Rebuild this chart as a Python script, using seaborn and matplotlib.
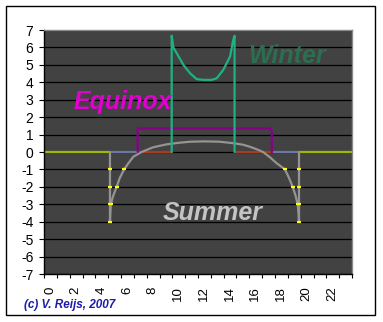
import numpy as np
import pandas as pd
import matplotlib
matplotlib.use("Agg")
import matplotlib.pyplot as plt
import seaborn as sns
from matplotlib import font_manager
from matplotlib.patches import Rectangle

# ---------------- data ----------------
hours_ticks = list(range(0, 25))
y_ticks = list(range(-7, 8))

winter_x = [9.95, 9.95, 10.08, 10.34, 10.86, 11.38, 11.9, 12.4, 13.07, 13.46, 13.97, 14.5, 14.75, 14.85, 14.85]
winter_y = [0, 6.67, 6.0, 5.67, 5.0, 4.52, 4.18, 4.14, 4.14, 4.23, 4.71, 5.48, 6.44, 6.67, 0]

equinox_x = [7.3, 7.3, 17.6, 17.75, 17.75]
equinox_y = [0, 1.35, 1.35, 1.2, 0]

summer_x = [5.14, 5.14, 5.17, 5.2, 5.4, 5.66, 5.9, 6.24, 6.57, 6.96, 7.6, 8.5, 9.56, 10.5, 11.4, 12.5,
            13.7, 14.8, 15.5, 16.05, 16.6, 17.07, 17.6, 18.14, 18.78, 19.1, 19.38, 19.6, 19.77, 19.84, 19.87, 19.87]
summer_y = [0, -4, -3.5, -3, -2.5, -2, -1.5, -1, -0.65, -0.27, 0, 0.27, 0.44, 0.53, 0.59, 0.61,
            0.59, 0.5, 0.42, 0.3, 0.15, 0, -0.3, -0.65, -1, -1.5, -2, -2.5, -3, -3.5, -4, 0]

# night / twilight baseline segments (start, end)
base_start = [0, 19.87, 5.14, 17.75, 7.3, 14.85]
base_end = [5.14, 24, 7.3, 19.87, 9.95, 17.75]
base_kind = ["night", "night", "summer", "summer", "equinox", "equinox"]

# yellow hour-marks on the summer curve
mark_x = [5.14, 5.14, 5.14, 5.14, 6.24, 5.66, 5.2, 19.87, 19.87, 19.87, 19.87, 18.78, 19.38, 19.77]
mark_y = [-1, -2, -3, -4, -1, -2, -3, -1, -2, -3, -4, -1, -2, -3]

# ---------------- style ----------------
sns.set_style("white")
plt.rcParams["font.family"] = ["Liberation Sans", "DejaVu Sans"]
plt.rcParams["xtick.top"] = False
plt.rcParams["xtick.labeltop"] = False
plt.rcParams["ytick.right"] = False

def has_font(name):
    try:
        font_manager.findfont(font_manager.FontProperties(family=name), fallback_to_default=False)
        return True
    except Exception:
        return False

narrow = has_font("Liberation Sans Narrow")
big_family = "Liberation Sans Narrow" if narrow else "Liberation Sans"
big_size = 22 if narrow else 18

W, H = 383, 322
fig = plt.figure(figsize=(W / 100, H / 100), dpi=100)
fig.patch.set_facecolor("white")

# outer frame
fig.patches.append(Rectangle((6 / W, 1 - 315 / H), (375 - 6) / W, (315 - 6) / H,
                             transform=fig.transFigure, fill=False, ec="black", lw=1.0))

ax = fig.add_axes([44 / W, 1 - 274 / H, (352 - 44) / W, (274 - 30) / H])
ax.set_facecolor("#424242")
ax.set_xlim(0, 24)
ax.set_ylim(-7, 7)

for yv in y_ticks:
    ax.axhline(yv, color="black", lw=0.9, zorder=1)

base_colors = {"night": "#9cbc00", "summer": "#6a78a6", "equinox": "#a83c1e"}
for s, e, k in zip(base_start, base_end, base_kind):
    sns.lineplot(x=[s, e], y=[0, 0], ax=ax, color=base_colors[k], lw=1.6, zorder=2)

sns.lineplot(x=summer_x, y=summer_y, sort=False, estimator=None, ax=ax, color="#949494", lw=1.6, zorder=3)
sns.lineplot(x=equinox_x, y=equinox_y, sort=False, estimator=None, ax=ax, color="#880088", lw=1.6, zorder=4)
sns.lineplot(x=winter_x, y=winter_y, sort=False, estimator=None, ax=ax, color="#1fb184", lw=1.6, zorder=5)
ax.plot(mark_x, mark_y, ls="none", marker="_", ms=3.5, mew=1.6, color="#ffff00", zorder=6)

# spines
for sp in ["top", "right"]:
    ax.spines[sp].set_color("#8a8a8a")
    ax.spines[sp].set_linewidth(1.0)
for sp in ["left", "bottom"]:
    ax.spines[sp].set_color("black")
    ax.spines[sp].set_linewidth(1.0)

ax.set_yticks(y_ticks)
ax.set_yticklabels([str(v) for v in y_ticks])
ax.set_xticks(hours_ticks)
ax.set_xticklabels([str(h) if (h % 2 == 0 and h < 24) else "" for h in hours_ticks])
ax.tick_params(axis="y", which="both", left=True, right=False, labelleft=True, labelright=False,
               direction="out", length=3.6, width=0.8, pad=4, labelsize=10, colors="black")
ax.tick_params(axis="x", which="both", bottom=True, top=False, labelbottom=True, labeltop=False,
               direction="out", length=3, width=0.8, pad=6, labelsize=9.5, colors="black",
               labelrotation=90)
for lab in ax.xaxis.get_majorticklabels():
    lab.set_horizontalalignment("left")
    lab.set_verticalalignment("top")
ax.set_xlabel("")
ax.set_ylabel("")

# annotations
ax.text(15.9, 5.1, "Winter", color="#2c6e52", fontsize=big_size, fontweight="bold",
        fontstyle="italic", family=[big_family, "Liberation Sans"], ha="left", va="baseline", zorder=7)
ax.text(2.34, 2.45, "Equinox", color="#e000d0", fontsize=big_size, fontweight="bold",
        fontstyle="italic", family=[big_family, "Liberation Sans"], ha="left", va="baseline", zorder=7)
ax.text(9.27, -3.9, "Summer", color="#c4c4c4", fontsize=big_size, fontweight="bold",
        fontstyle="italic", family=[big_family, "Liberation Sans"], ha="left", va="baseline", zorder=7)

fig.text(24 / W, 1 - 308 / H, "(c) V. Reijs, 2007", color="#1c1ca8", fontsize=8.5,
         fontweight="bold", fontstyle="italic", ha="left", va="baseline")

fig.savefig("out.png", dpi=100, facecolor="white")
